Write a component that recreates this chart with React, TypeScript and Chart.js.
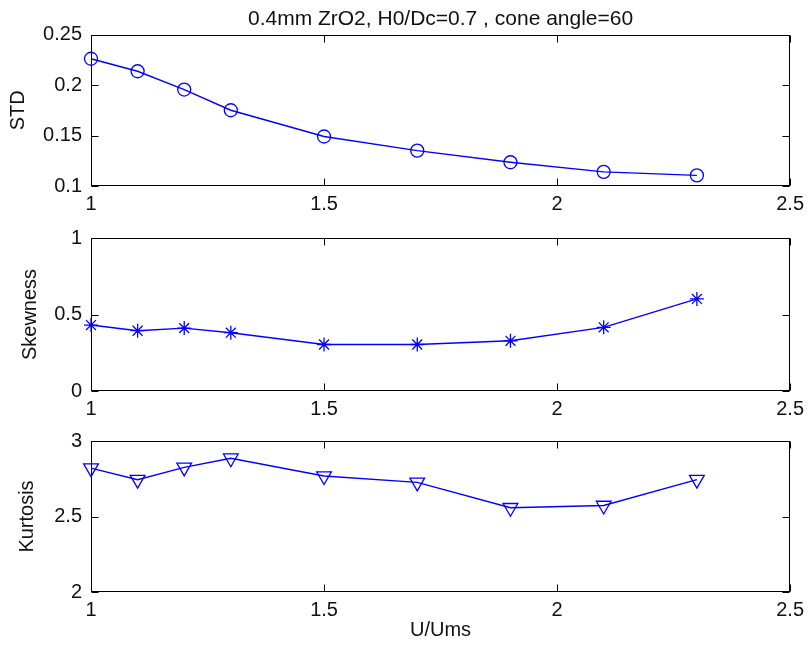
import React, { useEffect, useRef } from "react";
import { Chart, registerables } from "chart.js";

Chart.register(...registerables);

// ---- data ----
const xValues = [1, 1.1, 1.2, 1.3, 1.5, 1.7, 1.9, 2.1, 2.3];
const stdValues = [0.226, 0.2136, 0.1955, 0.175, 0.149, 0.135, 0.1235, 0.114, 0.1105];
const skewValues = [0.431, 0.394, 0.411, 0.381, 0.304, 0.304, 0.328, 0.416, 0.602];
const kurtValues = [2.82, 2.744, 2.825, 2.886, 2.768, 2.726, 2.558, 2.573, 2.744];

const xTicks = [1, 1.5, 2, 2.5];
const stdTicks = [0.1, 0.15, 0.2, 0.25];
const skewTicks = [0, 0.5, 1];
const kurtTicks = [2, 2.5, 3];

const titleText = "0.4mm ZrO2, H0/Dc=0.7 , cone angle=60";
const xLabel = "U/Ums";
const stdLabel = "STD";
const skewLabel = "Skewness";
const kurtLabel = "Kurtosis";

const FAMILY = "'Liberation Sans', Arial, Helvetica, sans-serif";
const FONT = { family: FAMILY, size: 20 };
const TEXT = "#111";
const BLUE = "#0000ff";

const boxPlugin = {
  id: "matlabBox",
  beforeDatasetsDraw(chart: any) {
    const { ctx, chartArea: a, scales } = chart;
    const L = 7;
    const xs = scales.x;
    const ys = scales.y;
    const l = Math.round(a.left) + 0.5;
    const r = Math.round(a.right) - 0.5;
    const t = Math.round(a.top) + 0.5;
    const b = Math.round(a.bottom) - 0.5;
    ctx.save();
    ctx.strokeStyle = "#000";
    ctx.lineWidth = 1;
    ctx.beginPath();
    xs.ticks.forEach((tk: any) => {
      const px = Math.round(xs.getPixelForValue(tk.value)) + 0.5;
      ctx.moveTo(px, b);
      ctx.lineTo(px, b - L);
      ctx.moveTo(px, t);
      ctx.lineTo(px, t + L);
    });
    ys.ticks.forEach((tk: any) => {
      const py = Math.round(ys.getPixelForValue(tk.value)) + 0.5;
      ctx.moveTo(l, py);
      ctx.lineTo(l + L, py);
      ctx.moveTo(r, py);
      ctx.lineTo(r - L, py);
    });
    ctx.stroke();
    ctx.strokeRect(l, t, r - l, b - t);
    ctx.restore();
  },
};

type PanelProps = {
  canvasTop: number;
  canvasHeight: number;
  areaTop: number;
  areaBottom: number;
  values: number[];
  yTicks: number[];
  yLabel: string;
  yLabelPad: number;
  pointStyle: string;
  pointRadius: number;
  pointRotation?: number;
  title?: string;
  xTitle?: string;
};

function Panel(p: PanelProps) {
  const ref = useRef<HTMLCanvasElement | null>(null);
  useEffect(() => {
    if (!ref.current) return;
    const yMin = p.yTicks[0];
    const yMax = p.yTicks[p.yTicks.length - 1];
    const xAxisHeight = p.canvasTop + p.canvasHeight - p.areaBottom;
    const titleLine = 21 * 1.2;
    const chart = new Chart(ref.current, {
      type: "line",
      data: {
        datasets: [
          {
            data: xValues.map((x, i) => ({ x, y: p.values[i] })),
            borderColor: BLUE,
            borderWidth: 1.4,
            backgroundColor: "rgba(0,0,0,0)",
            pointBorderColor: BLUE,
            pointBackgroundColor: "rgba(0,0,0,0)",
            pointBorderWidth: 1.3,
            pointStyle: p.pointStyle as any,
            pointRadius: p.pointRadius,
            pointRotation: p.pointRotation || 0,
            tension: 0,
            clip: false as any,
          },
        ],
      },
      options: {
        responsive: false,
        animation: false,
        devicePixelRatio: 1,
        layout: {
          padding: {
            left: 0,
            right: 15,
            top: p.title ? 0 : p.areaTop - p.canvasTop,
            bottom: 0,
          },
        },
        plugins: {
          legend: { display: false },
          tooltip: { enabled: false },
          title: p.title
            ? {
                display: true,
                fullSize: false,
                text: p.title,
                color: TEXT,
                font: { family: FAMILY, size: 21, weight: "normal" as any },
                padding: { top: 7, bottom: p.areaTop - p.canvasTop - 7 - titleLine },
              }
            : { display: false },
        },
        scales: {
          x: {
            type: "linear",
            min: xTicks[0],
            max: xTicks[xTicks.length - 1],
            grid: { display: false, drawTicks: false },
            border: { display: false },
            afterBuildTicks: (s: any) => {
              s.ticks = xTicks.map((v) => ({ value: v }));
            },
            afterFit: (s: any) => {
              s.height = xAxisHeight;
            },
            ticks: {
              color: TEXT,
              font: FONT,
              padding: 6,
              maxRotation: 0,
              autoSkip: false,
              callback: (v: any) => String(v),
            },
            title: p.xTitle
              ? {
                  display: true,
                  text: p.xTitle,
                  color: TEXT,
                  font: FONT,
                  padding: { top: 0, bottom: 3 },
                }
              : { display: false },
          },
          y: {
            type: "linear",
            min: yMin,
            max: yMax,
            grid: { display: false, drawTicks: false },
            border: { display: false },
            afterBuildTicks: (s: any) => {
              s.ticks = p.yTicks.map((v) => ({ value: v }));
            },
            afterFit: (s: any) => {
              s.width = 91;
            },
            ticks: {
              color: TEXT,
              font: FONT,
              padding: 9,
              autoSkip: false,
              callback: (v: any) => String(v),
            },
            title: {
              display: true,
              text: p.yLabel,
              color: TEXT,
              font: FONT,
              padding: { top: p.yLabelPad, bottom: 0 },
            },
          },
        },
      },
      plugins: [boxPlugin],
    } as any);
    return () => chart.destroy();
  }, []);
  return (
    <canvas
      ref={ref}
      width={810}
      height={p.canvasHeight}
      style={{ position: "absolute", left: 0, top: p.canvasTop, width: 810, height: p.canvasHeight }}
    />
  );
}

export default function App() {
  return (
    <div
      style={{
        position: "absolute",
        left: 0,
        top: 0,
        width: 810,
        height: 645,
        background: "#fff",
        overflow: "hidden",
      }}
    >
      <Panel
        canvasTop={0}
        canvasHeight={225}
        areaTop={34.5}
        areaBottom={186}
        values={stdValues}
        yTicks={stdTicks}
        yLabel={stdLabel}
        yLabelPad={6}
        pointStyle="circle"
        pointRadius={6.5}
        title={titleText}
      />
      <Panel
        canvasTop={215}
        canvasHeight={220}
        areaTop={238}
        areaBottom={391}
        values={skewValues}
        yTicks={skewTicks}
        yLabel={skewLabel}
        yLabelPad={18.5}
        pointStyle="star"
        pointRadius={7}
      />
      <Panel
        canvasTop={420}
        canvasHeight={225}
        areaTop={439.5}
        areaBottom={592}
        values={kurtValues}
        yTicks={kurtTicks}
        yLabel={kurtLabel}
        yLabelPad={15}
        pointStyle="triangle"
        pointRadius={8.5}
        pointRotation={180}
        xTitle={xLabel}
      />
    </div>
  );
}
